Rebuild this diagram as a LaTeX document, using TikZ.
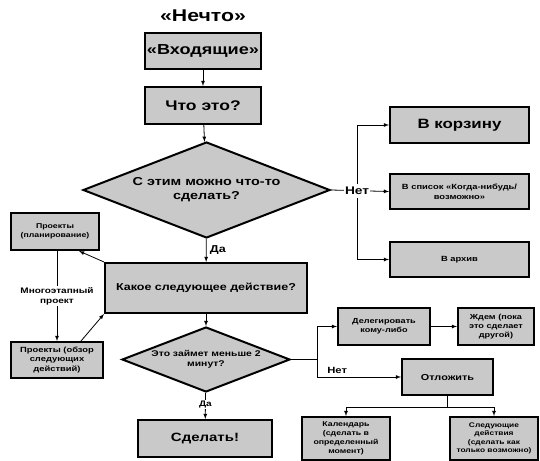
\documentclass[tikz,border=0pt]{standalone}
\usepackage{fontspec}
\setmainfont[FakeStretch=1.25]{Liberation Sans}
\usepackage{tikz}
\usetikzlibrary{calc,arrows,shapes.geometric}

\begin{document}
\begin{tikzpicture}[x=1pt,y=-1pt,
    blok/.style={draw,line width=2pt,fill=black!21,align=center,inner sep=1pt},
    romb/.style={blok,diamond,aspect=2.6,inner sep=0pt},
    fs/.style 2 args={font=\bfseries\fontsize{#1}{#2}\selectfont},
    sv/.style={line width=0.8pt},
    metka/.style={fill=white,inner sep=1pt,align=center}]
  \useasboundingbox (0,0) rectangle (540,460);
  % verkhnyaya chast
  \node[fs={17}{18}](title)at(203,16){«Нечто»};
  \node[blok,fs={14.5}{16},minimum width=116,minimum height=36](inbox)at(203,51){«Входящие»};
  \node[blok,fs={14}{16},minimum width=116,minimum height=37](what)at(203,105.5){Что это?};
  \node[romb,fs={11.5}{14},minimum width=247,minimum height=96](dia1)at(206.5,190){С этим можно что-то\\сделать?};
  \node[blok,fs={13.5}{15},minimum width=139,minimum height=36](trash)at(459.5,125){В корзину};
  \node[blok,fs={7.5}{10},minimum width=139,minimum height=35](someday)at(459.5,191.5){В список «Когда-нибудь/\\возможно»};
  \node[blok,fs={7.5}{10},minimum width=139,minimum height=35](archive)at(459.5,259.5){В архив};
  \draw[sv,-latex](inbox)--(what);
  \draw[sv,-latex](what)--(dia1);
  \draw[sv,-latex](dia1.east)--node[metka,fs={11}{12},pos=0.45]{Нет}(someday.west);
  \coordinate(razv1)at(357,191);
  \draw[sv,-latex](razv1|-trash)--(trash.west);
  \draw[sv,-latex](razv1|-archive)--(archive.west);
  \draw[sv](razv1|-trash)--($(razv1)+(0,-7)$);
  \draw[sv](razv1|-archive)--($(razv1)+(0,7)$);
  % sleduyushchee deistvie i proekty
  \node[blok,fs={10}{12},minimum width=202,minimum height=50](next)at(206,288){Какое следующее действие?};
  \node[blok,fs={7}{9},minimum width=88,minimum height=37](plan)at(55,231.5){Проекты\\(планирование)};
  \node[blok,fs={7.5}{9.5},minimum width=92,minimum height=36](review)at(57,360){Проекты (обзор\\следующих\\действий)};
  \draw[sv,-latex](dia1)--node[right,fs={10}{11}]{Да}(next);
  \draw[sv,-latex](next.north west)--([xshift=-21]plan.south east);
  \draw[sv,-latex]([xshift=-23]review.north east)--(next.south west);
  \draw[sv,-latex](review.north|-plan.south)--node[metka,fs={8}{10}]{Многоэтапный\\проект}(review.north);
  % menshe 2 minut
  \node[romb,fs={8.3}{10},minimum width=168,minimum height=65](dia2)at(206,359.5){Это займет меньше 2\\минут?};
  \node[blok,fs={12}{14},minimum width=134,minimum height=37](doit)at(205,438.5){Сделать!};
  \node[blok,fs={7.3}{9},minimum width=92,minimum height=37](delegate)at(384,326.5){Делегировать\\кому-либо};
  \node[blok,fs={7.3}{9},minimum width=76,minimum height=37](wait)at(496,326.5){Ждем (пока\\это сделает\\другой)};
  \node[blok,fs={8.7}{10},minimum width=91,minimum height=36](defer)at(447.5,377){Отложить};
  \node[blok,fs={7}{8.8},minimum width=88,minimum height=43](calendar)at(346,438.5){Календарь\\(сделать в\\определенный\\момент)};
  \node[blok,fs={6.7}{8.5},minimum width=88,minimum height=43](nextact)at(494,438.5){Следующие\\действия\\(сделать как\\только возможно)};
  \draw[sv,-latex](next)--(dia2);
  \draw[sv,-latex](dia2)--node[fs={8}{9},pos=0.45,fill=white,inner sep=1pt]{Да}(doit);
  \coordinate(razv2)at(317,359.5);
  \draw[sv](dia2.east)--(razv2);
  \draw[sv,-latex](razv2)|-(delegate.west);
  \draw[sv,-latex](razv2)|-node[pos=0.62,above,fs={9}{10}]{Нет}(defer.west);
  \draw[sv,-latex](delegate)--(wait);
  \coordinate(razv3)at(447.5,407);
  \draw[sv](defer)--(razv3);
  \draw[sv,-latex](razv3)-|(calendar.north);
  \draw[sv,-latex](razv3)-|(nextact.north);
\end{tikzpicture}
\end{document}
